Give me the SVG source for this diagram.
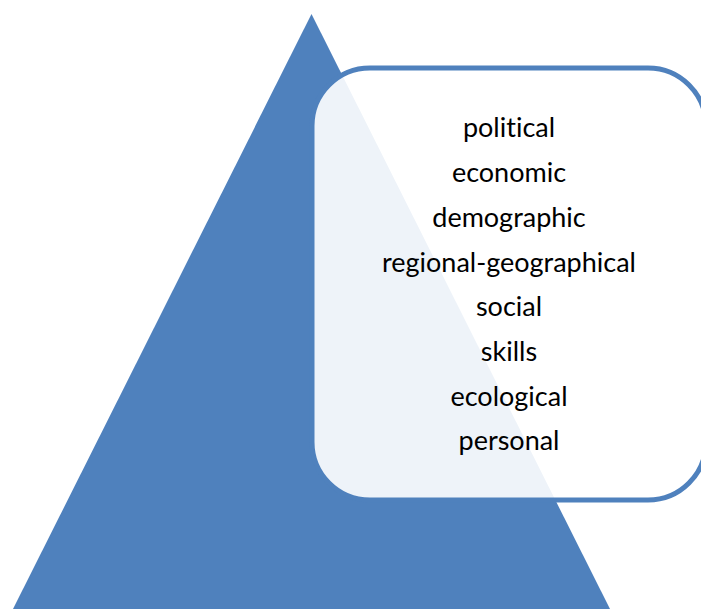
<svg xmlns="http://www.w3.org/2000/svg" width="701" height="609" viewBox="0 0 701 609">
  <style>
    .tri { fill: #4F81BD; }
    .box { fill: #FFFFFF; fill-opacity: 0.9; stroke: #4F81BD; stroke-width: 5; }
    .lbl { font-family: Lato, "Open Sans", "Liberation Sans", sans-serif; font-size: 27px; fill: #000000; text-anchor: middle; font-variant-ligatures: none; font-feature-settings: "liga" 0, "clig" 0; }
  </style>
  <rect x="0" y="0" width="701" height="609" fill="#FFFFFF"/>
  <g id="pyramid">
    <polygon class="tri" points="311.5,14 13,609 610,609"/>
  </g>
  <g id="factors-box">
    <rect class="box" x="312" y="68" width="394" height="432" rx="58" ry="58"/>
    <text class="lbl" x="509" y="137">political</text>
    <text class="lbl" x="509" y="182">economic</text>
    <text class="lbl" x="509" y="227">demographic</text>
    <text class="lbl" x="509" y="272">regional-geographical</text>
    <text class="lbl" x="509" y="316">social</text>
    <text class="lbl" x="509" y="361">skills</text>
    <text class="lbl" x="509" y="406">ecological</text>
    <text class="lbl" x="509" y="450">personal</text>
  </g>
  <g id="connectors"/>
</svg>
